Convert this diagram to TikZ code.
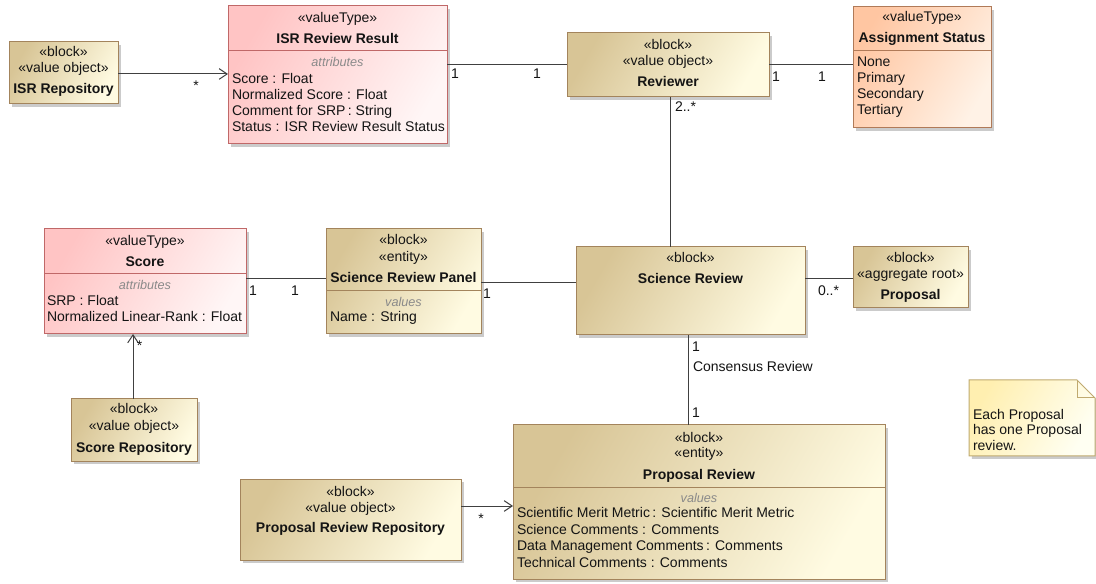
\documentclass[tikz,border=0pt]{standalone}
\usepackage{fontspec}
\setmainfont{Liberation Sans}
\usetikzlibrary{shadows,fit,calc,arrows.meta}
\definecolor{blkL}{HTML}{D8C596}
\definecolor{blkR}{HTML}{FFFBE2}
\definecolor{blkD}{HTML}{A3845C}
\definecolor{vtL}{HTML}{FFC4C4}
\definecolor{vtR}{HTML}{FFF6F6}
\definecolor{vtD}{HTML}{C06868}
\definecolor{orL}{HTML}{FFC6A2}
\definecolor{orR}{HTML}{FFF2E6}
\definecolor{orD}{HTML}{B07A58}
\definecolor{ntL}{HTML}{FFEFB0}
\definecolor{ntR}{HTML}{FFFFF2}
\definecolor{ntD}{HTML}{C0AA70}
\definecolor{lineC}{HTML}{404040}
\definecolor{secC}{HTML}{8A8A8A}
\tikzset{
  x=0.75pt, y=-0.75pt,
  boxbase/.style={inner sep=0pt, outer sep=0pt, line width=0.75pt,
    drop shadow={shadow xshift=2.2pt, shadow yshift=-2.2pt, fill=black!40, opacity=0.5}},
  blockbox/.style={boxbase, draw=blkD, left color=blkL, right color=blkR, shading angle=60},
  vtbox/.style={boxbase, draw=vtD, left color=vtL, right color=vtR, shading angle=60},
  orbox/.style={boxbase, draw=orD, left color=orL, right color=orR, shading angle=60},
  txt/.style={inner sep=0pt, outer sep=0pt, font=\fontsize{10.5}{12}\selectfont, text=black!92},
  ct/.style={txt, anchor=base},
  lt/.style={txt, anchor=base west},
  bt/.style={txt, anchor=base, font=\fontsize{10.5}{12}\selectfont\bfseries},
  sect/.style={inner sep=0pt, anchor=base, font=\fontsize{9.5}{11}\selectfont\itshape, text=secC},
  conn/.style={draw=lineC, line width=0.75pt},
  openarrow/.style={conn, -{Straight Barb[length=6pt, width=8pt, line width=0.75pt]}},
  mult/.style={txt, anchor=base},
}
\begin{document}
\begin{tikzpicture}
\useasboundingbox (0,0) rectangle (1096,584);
\fill[white] (0,0) rectangle (1096,584);

% ---------- boxes ----------
\node[blockbox, fit={(9,42) (118,104)}] (isrrepo) {};
\node[vtbox, fit={(228,6) (447,144)}] (isrrr) {};
\node[blockbox, fit={(567,33) (769,97)}] (reviewer) {};
\node[orbox, fit={(853,7) (991,128)}] (asgn) {};
\node[vtbox, fit={(44,229) (246,334)}] (score) {};
\node[blockbox, fit={(326,229) (481,334)}] (srp) {};
\node[blockbox, fit={(576,247) (805,335)}] (sr) {};
\node[blockbox, fit={(853,247) (968,308)}] (proposal) {};
\node[blockbox, fit={(71,399) (197,461)}] (scorerepo) {};
\node[blockbox, fit={(240,479) (461,560)}] (prr) {};
\node[blockbox, fit={(513,425) (885,579)}] (prev) {};

% note
\path[draw=ntD, line width=0.75pt, left color=ntL, right color=ntR, shading angle=60,
  drop shadow={shadow xshift=2.2pt, shadow yshift=-2.2pt, fill=black!40, opacity=0.5}]
  (969,380) -- (1077,380) -- (1095,398) -- (1095,456) -- (969,456) -- cycle;
\draw[ntD, line width=0.75pt] (1077,380) -- (1077,398) -- (1095,398);

% ---------- compartment dividers ----------
\draw[vtD, line width=0.75pt] (isrrr.west |- 0,51) -- (isrrr.east |- 0,51);
\draw[orD, line width=0.75pt] (asgn.west |- 0,51) -- (asgn.east |- 0,51);
\draw[vtD, line width=0.75pt] (score.west |- 0,274) -- (score.east |- 0,274);
\draw[blkD, line width=0.75pt] (srp.west |- 0,291) -- (srp.east |- 0,291);
\draw[blkD, line width=0.75pt] (prev.west |- 0,487) -- (prev.east |- 0,487);

% ---------- connectors ----------
\draw[openarrow] (isrrepo.east |- 0,74) -- (isrrr.west |- 0,74);
\draw[conn] (isrrr.east |- 0,65) -- (reviewer.west |- 0,65);
\draw[conn] (reviewer.east |- 0,65) -- (asgn.west |- 0,65);
\draw[conn] (reviewer.south -| 670,0) -- (sr.north -| 670,0);
\draw[conn] (score.east |- 0,279) -- (srp.west |- 0,279);
\draw[conn] (srp.east |- 0,283) -- (sr.west |- 0,283);
\draw[conn] (sr.east |- 0,279) -- (proposal.west |- 0,279);
\draw[conn] (sr.south -| 688,0) -- (prev.north -| 688,0);
\draw[openarrow] (scorerepo.north -| 133,0) -- (score.south -| 133,0);
\draw[openarrow] (prr.east |- 0,506) -- (prev.west |- 0,506);

% ---------- multiplicities ----------
\node[mult] (m1) at (196,90.5) {*};
\node[mult] (m2) at (455,79) {1};
\node[mult] (m3) at (537,79) {1};
\node[mult] (m4) at (776,82) {1};
\node[mult] (m5) at (822,82) {1};
\node[mult, anchor=base west] (m6) at (675,112) {2..*};
\node[mult] (m7) at (253,296) {1};
\node[mult] (m8) at (295,296) {1};
\node[mult] (m9) at (487,299) {1};
\node[mult, anchor=base west] (m10) at (818,295.5) {0..*};
\node[mult] (m11) at (696,352) {1};
\node[mult, anchor=base west] (m12) at (693,372) {Consensus Review};
\node[mult] (m13) at (696,418) {1};
\node[mult] (m14) at (139.5,350.5) {*};
\node[mult] (m15) at (481,523) {*};

% ---------- texts ----------
% ISR Repository
\node[ct] (a1) at (63.5,57) {«block»};
\node[ct] (a2) at (63.5,73) {«value object»};
\node[bt] (a3) at (63.5,94) {ISR Repository};
% ISR Review Result
\node[ct] (b1) at (337.5,23) {«valueType»};
\node[bt] (b2) at (337.5,43.5) {ISR Review Result};
\node[sect] (b3) at (337.5,67) {attributes};
\node[lt] (b4) at (232,83.5) {Score : Float};
\node[lt] (b5) at (232,99.5) {Normalized Score : Float};
\node[lt] (b6) at (232,115.5) {Comment for SRP\,: String};
\node[lt] (b7) at (232,131.5) {Status : ISR Review Result Status};
% Reviewer
\node[ct] (c1) at (668,49.5) {«block»};
\node[ct] (c2) at (668,65.5) {«value object»};
\node[bt] (c3) at (668,86.5) {Reviewer};
% Assignment Status
\node[ct] (d1) at (922,21.5) {«valueType»};
\node[bt] (d2) at (922,43) {Assignment Status};
\node[lt] (d3) at (857,66.5) {None};
\node[lt] (d4) at (857,82.5) {Primary};
\node[lt] (d5) at (857,98.5) {Secondary};
\node[lt] (d6) at (857,114.5) {Tertiary};
% Score
\node[ct] (e1) at (145,246) {«valueType»};
\node[bt] (e2) at (145,266.5) {Score};
\node[sect] (e3) at (145,290) {attributes};
\node[lt] (e4) at (47,305.5) {SRP : Float};
\node[lt] (e5) at (47,322) {Normalized Linear-Rank : Float};
% Science Review Panel
\node[ct] (f1) at (403.5,245) {«block»};
\node[ct] (f2) at (403.5,261.5) {«entity»};
\node[bt] (f3) at (403.5,282.5) {Science Review Panel};
\node[sect] (f4) at (403.5,306.5) {values};
\node[lt] (f5) at (330,322) {Name : String};
% Science Review
\node[ct] (g1) at (690.5,262.5) {«block»};
\node[bt] (g2) at (690.5,284) {Science Review};
% Proposal
\node[ct] (h1) at (910.5,263) {«block»};
\node[ct] (h2) at (910.5,279) {«aggregate root»};
\node[bt] (h3) at (910.5,300) {Proposal};
% Score Repository
\node[ct] (i1) at (134,414) {«block»};
\node[ct] (i2) at (134,430.5) {«value object»};
\node[bt] (i3) at (134,452) {Score Repository};
% Proposal Review Repository
\node[ct] (j1) at (350.5,496) {«block»};
\node[ct] (j2) at (350.5,512) {«value object»};
\node[bt] (j3) at (350.5,532) {Proposal Review Repository};
% Proposal Review
\node[ct] (k1) at (699,442) {«block»};
\node[ct] (k2) at (699,458) {«entity»};
\node[bt] (k3) at (699,479.5) {Proposal Review};
\node[sect] (k4) at (699,502.5) {values};
\node[lt] (k5) at (517,517.5) {Scientific Merit Metric\,: Scientific Merit Metric};
\node[lt] (k6) at (517,534) {Science Comments : Comments};
\node[lt] (k7) at (517,550.5) {Data Management Comments\,: Comments};
\node[lt] (k8) at (517,567) {Technical Comments : Comments};
% Note
\node[lt] (n1) at (973,419.5) {Each Proposal};
\node[lt] (n2) at (973,435) {has one Proposal};
\node[lt] (n3) at (973,450.5) {review.};
\end{tikzpicture}
\end{document}
